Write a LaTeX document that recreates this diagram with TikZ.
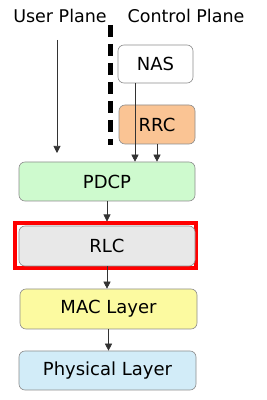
\documentclass[tikz,border=0pt]{standalone}
\usepackage{fontspec}
\setmainfont{DejaVu Sans}
\usetikzlibrary{arrows.meta}
\definecolor{rrcorange}{RGB}{250,196,148}
\definecolor{pdcpgreen}{RGB}{206,250,206}
\definecolor{rlcgray}{RGB}{232,232,232}
\definecolor{macyellow}{RGB}{252,250,160}
\definecolor{phyblue}{RGB}{210,236,248}
\begin{document}
\begin{tikzpicture}[x=1pt, y=1pt,
    lyr/.style={draw=black!45, line width=0.6pt, rounded corners=6pt, font=\fontsize{18}{21}\selectfont},
    flow/.style={draw=black!80, line width=0.6pt, -{Triangle[width=7pt,length=7pt]}}]
    \useasboundingbox (0,0) rectangle (266,400);
    % plane titles
    \node (up) at (60,384) [font=\fontsize{17.5}{20}\selectfont] {User Plane};
    \node (cp) at (186,384) [font=\fontsize{17.5}{20}\selectfont] {Control Plane};
    \coordinate (divtop) at (110,375);
    \coordinate (divbot) at (110,255);
    \draw [line width=5pt, dash pattern=on 12pt off 7pt] (divtop) -- (divbot);
    % control plane boxes
    \node (nas)  [lyr, fill=white, minimum width=75pt, minimum height=38pt] at (155.5,336) {NAS};
    \node (rrc)  [lyr, fill=rrcorange, minimum width=76pt, minimum height=39pt] at (157,275.5) {RRC};
    % protocol stack
    \node (pdcp) [lyr, fill=pdcpgreen, minimum width=176pt, minimum height=39pt] at (107,218.5) {PDCP};
    \node (rlcframe) [draw=red, line width=4pt, minimum width=181pt, minimum height=45pt] at (105.5,154) {};
    \node (rlc)  [lyr, fill=rlcgray, minimum width=176pt, minimum height=40pt] at (107,154) {RLC};
    \node (mac)  [lyr, fill=macyellow, minimum width=177pt, minimum height=40pt] at (108.5,91) {MAC Layer};
    \node (phy)  [lyr, fill=phyblue, minimum width=177pt, minimum height=39pt] at (107.5,29.5) {Physical Layer};
    % user plane data
    \coordinate (upstart) at (57,360);
    \coordinate (upend) at (57,247);
    \draw [flow] (upstart) -- (upend);
    % NAS and RRC into PDCP
    \draw [flow] ([xshift=-20.5pt]nas.south) -- ([xshift=-20.5pt]nas.south |- pdcp.north);
    \draw [flow] (rrc.south) -- (rrc.south |- pdcp.north);
    % down the stack
    \draw [flow] (pdcp.south) -- (pdcp.south |- rlcframe.north);
    \draw [flow] (rlc.south) -- (rlc.south |- mac.north);
    \draw [flow] (mac.south) -- (mac.south |- phy.north);
\end{tikzpicture}
\end{document}
